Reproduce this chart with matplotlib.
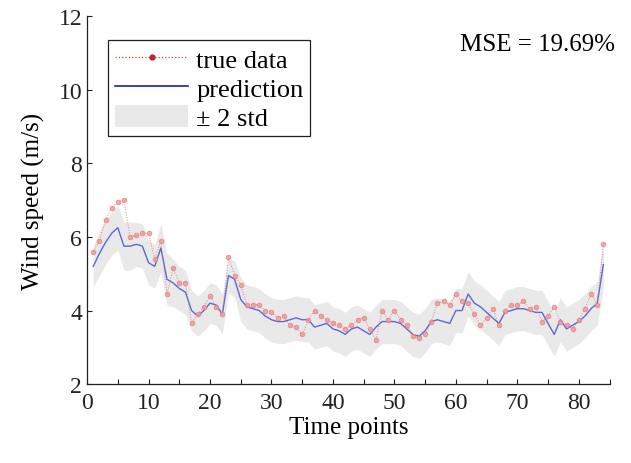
import matplotlib
matplotlib.use("Agg")
import matplotlib.pyplot as plt
from matplotlib.patches import Patch
from matplotlib.lines import Line2D
from matplotlib.ticker import MultipleLocator

plt.rcParams['font.family'] = ['Liberation Serif', 'DejaVu Serif']

# time index 1..84
t = list(range(1, 85))

true_data = [5.6, 5.9, 6.45, 6.8, 6.95, 7.0, 6.0, 6.05, 6.1, 6.1,
             5.4, 5.9, 4.45, 5.15, 4.75, 4.75, 3.65, 3.9, 4.1, 4.4,
             4.1, 3.9, 5.45, 4.95, 4.7, 4.15, 4.15, 4.15, 4.0, 3.95,
             3.8, 3.85, 3.6, 3.55, 3.35, 3.75, 4.0, 3.85, 3.75, 3.65,
             3.6, 3.5, 3.6, 3.75, 3.8, 3.5, 3.2, 4.0, 3.75, 4.0,
             3.75, 3.6, 3.3, 3.25, 3.35, 3.7, 4.2, 4.25, 4.15, 4.45,
             4.25, 4.2, 3.9, 3.6, 3.8, 4.05, 3.6, 4.0, 4.15, 4.15,
             4.25, 4.05, 4.1, 3.7, 3.85, 4.1, 3.7, 3.6, 3.5, 3.75,
             4.05, 4.45, 4.15, 5.8]

prediction = [5.2, 5.55, 5.85, 6.1, 6.25, 5.75, 5.75, 5.8, 5.75, 5.3,
              5.2, 5.7, 4.85, 4.75, 4.6, 4.5, 4.0, 3.85, 4.0, 4.2,
              4.15, 3.9, 4.95, 4.85, 4.3, 4.1, 4.05, 4.0, 3.85, 3.75,
              3.7, 3.7, 3.75, 3.8, 3.75, 3.75, 3.55, 3.6, 3.65, 3.5,
              3.45, 3.35, 3.5, 3.55, 3.45, 3.35, 3.55, 3.7, 3.7, 3.7,
              3.65, 3.5, 3.35, 3.3, 3.45, 3.7, 3.75, 3.7, 3.65, 4.0,
              4.0, 4.45, 4.2, 4.1, 3.95, 3.8, 3.65, 3.95, 4.0, 4.05,
              4.05, 4.0, 3.95, 3.95, 3.65, 3.35, 3.75, 3.5, 3.6, 3.7,
              3.85, 4.05, 4.2, 5.25]

# half width of the +-2 std band
two_std = [0.55, 0.6, 0.6, 0.6, 0.6, 0.65, 0.65, 0.6, 0.6, 0.6,
           0.6, 0.65, 0.7, 0.65, 0.6, 0.6, 0.55, 0.55, 0.55, 0.55,
           0.55, 0.55, 0.45, 0.5, 0.6, 0.6, 0.6, 0.6, 0.6, 0.6,
           0.6, 0.6, 0.6, 0.6, 0.6, 0.6, 0.6, 0.6, 0.6, 0.6,
           0.6, 0.6, 0.6, 0.6, 0.6, 0.6, 0.6, 0.6, 0.6, 0.6,
           0.6, 0.6, 0.6, 0.6, 0.6, 0.6, 0.6, 0.6, 0.6, 0.6,
           0.6, 0.6, 0.6, 0.6, 0.6, 0.6, 0.6, 0.6, 0.6, 0.6,
           0.6, 0.6, 0.6, 0.6, 0.6, 0.6, 0.6, 0.6, 0.6, 0.6,
           0.6, 0.6, 0.6, 0.6]

lower = [p - s for p, s in zip(prediction, two_std)]
upper = [p + s for p, s in zip(prediction, two_std)]

fig = plt.figure(figsize=(6.31, 4.64), dpi=100)
ax = fig.add_axes([0.138, 0.170, 0.828, 0.793])

ax.fill_between(t, lower, upper, color='#e9e9e9', lw=0, zorder=1)
ax.plot(t, prediction, color='#5a68d8', lw=1.0, zorder=2)
ax.plot(t, true_data, ls=':', color='#e07070', lw=0.7, marker='o',
        ms=3.4, mfc='#f09a9a', mec='#e07a7a', mew=0.5, alpha=0.85, zorder=3)

ax.set_xlim(0, 85)
ax.set_ylim(2, 12)
ax.xaxis.set_major_locator(MultipleLocator(10))
ax.xaxis.set_minor_locator(MultipleLocator(5))
ax.set_yticks([2, 4, 6, 8, 10, 12])
ax.tick_params(which='both', direction='in', length=3.5, width=0.8,
               labelsize=17, colors='#222222')
ax.tick_params(axis='x', pad=6)
for side in ['top', 'right']:
    ax.spines[side].set_visible(False)
for side in ['left', 'bottom']:
    ax.spines[side].set_color('#222222')
    ax.spines[side].set_linewidth(0.9)

ax.set_xlabel('Time points', fontsize=18, labelpad=2)
ax.set_ylabel('Wind speed (m/s)', fontsize=18, labelpad=10)

ax.text(1.01, 0.925, 'MSE = 19.69%', transform=ax.transAxes,
        ha='right', va='center', fontsize=18)

handles = [
    Line2D([], [], ls=':', color='#d04040', lw=0.9, marker='o', ms=3.5,
           mfc='#c02030', mec='#c02030'),
    Line2D([], [], color='#2020a0', lw=1.2),
    Patch(facecolor='#e8e8e8', edgecolor='none'),
]
leg = ax.legend(handles, ['true data', 'prediction', '± 2 std'],
                loc='upper left', bbox_to_anchor=(0.04, 0.935),
                fontsize=19, handlelength=2.8, handleheight=0.9,
                handletextpad=0.3, labelspacing=0.15, borderpad=0.25,
                borderaxespad=0, fancybox=False, framealpha=1,
                edgecolor='#222222', numpoints=1)
leg.get_frame().set_linewidth(0.9)

fig.savefig('out.png', dpi=100)
